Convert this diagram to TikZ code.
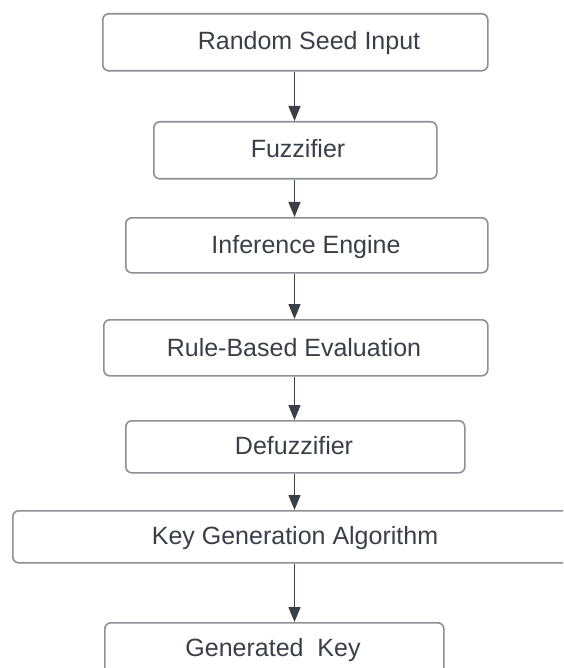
\documentclass[tikz,border=0pt]{standalone}
\usepackage{fontspec}
\setmainfont{Liberation Sans}
\usetikzlibrary{arrows.meta}
\definecolor{boxgray}{HTML}{8E9095}
\definecolor{txtgray}{HTML}{3B3F48}
\definecolor{arrgray}{HTML}{3B3F48}
\tikzset{
  box/.style={draw=boxgray, line width=1.6pt, rounded corners=6pt, fill=white, inner sep=0pt, anchor=north west},
  txt/.style={text=txtgray, font=\fontsize{25}{29}\selectfont, inner sep=0pt, anchor=base},
  arr/.style={draw=arrgray, line width=1.4pt, -{Triangle[length=15pt,width=12pt]}}
}
\begin{document}
\begin{tikzpicture}[x=1pt,y=1pt]
\useasboundingbox (0,0) rectangle (563,-668);
\clip (0,0) rectangle (563,-668);
\fill[white] (0,0) rectangle (563,-668);
\coordinate (ax) at (294.5,0);
\node[box, minimum width=385pt, minimum height=57pt] (b1) at (102,-13) {};
\node[box, minimum width=283pt, minimum height=57pt] (b2) at (153,-121) {};
\node[box, minimum width=362pt, minimum height=55pt] (b3) at (125,-217) {};
\node[box, minimum width=384pt, minimum height=56pt] (b4) at (103,-319) {};
\node[box, minimum width=339pt, minimum height=52pt] (b5) at (125,-420) {};
\node[box, minimum width=566pt, minimum height=52pt] (b6) at (12,-510) {};
\node[box, minimum width=339pt, minimum height=56pt] (b7) at (104,-622) {};
\node[txt] (t1) at (309,-49.5) {Random Seed Input};
\node[txt] (t2) at (298,-157.5) {Fuzzifier};
\node[txt] (t3) at (306,-253) {Inference Engine};
\node[txt] (t4) at (294,-356) {Rule-Based Evaluation};
\node[txt] (t5) at (294,-454) {Defuzzifier};
\node[txt] (t6) at (295,-544) {Key Generation Algorithm};
\node[txt] (t7) at (273,-656) {Generated\ \ Key};
\draw[arr] (b1.south -| ax) -- (b2.north -| ax);
\draw[arr] (b2.south -| ax) -- (b3.north -| ax);
\draw[arr] (b3.south -| ax) -- (b4.north -| ax);
\draw[arr] (b4.south -| ax) -- (b5.north -| ax);
\draw[arr] (b5.south -| ax) -- (b6.north -| ax);
\draw[arr] (b6.south -| ax) -- (b7.north -| ax);
\end{tikzpicture}
\end{document}
